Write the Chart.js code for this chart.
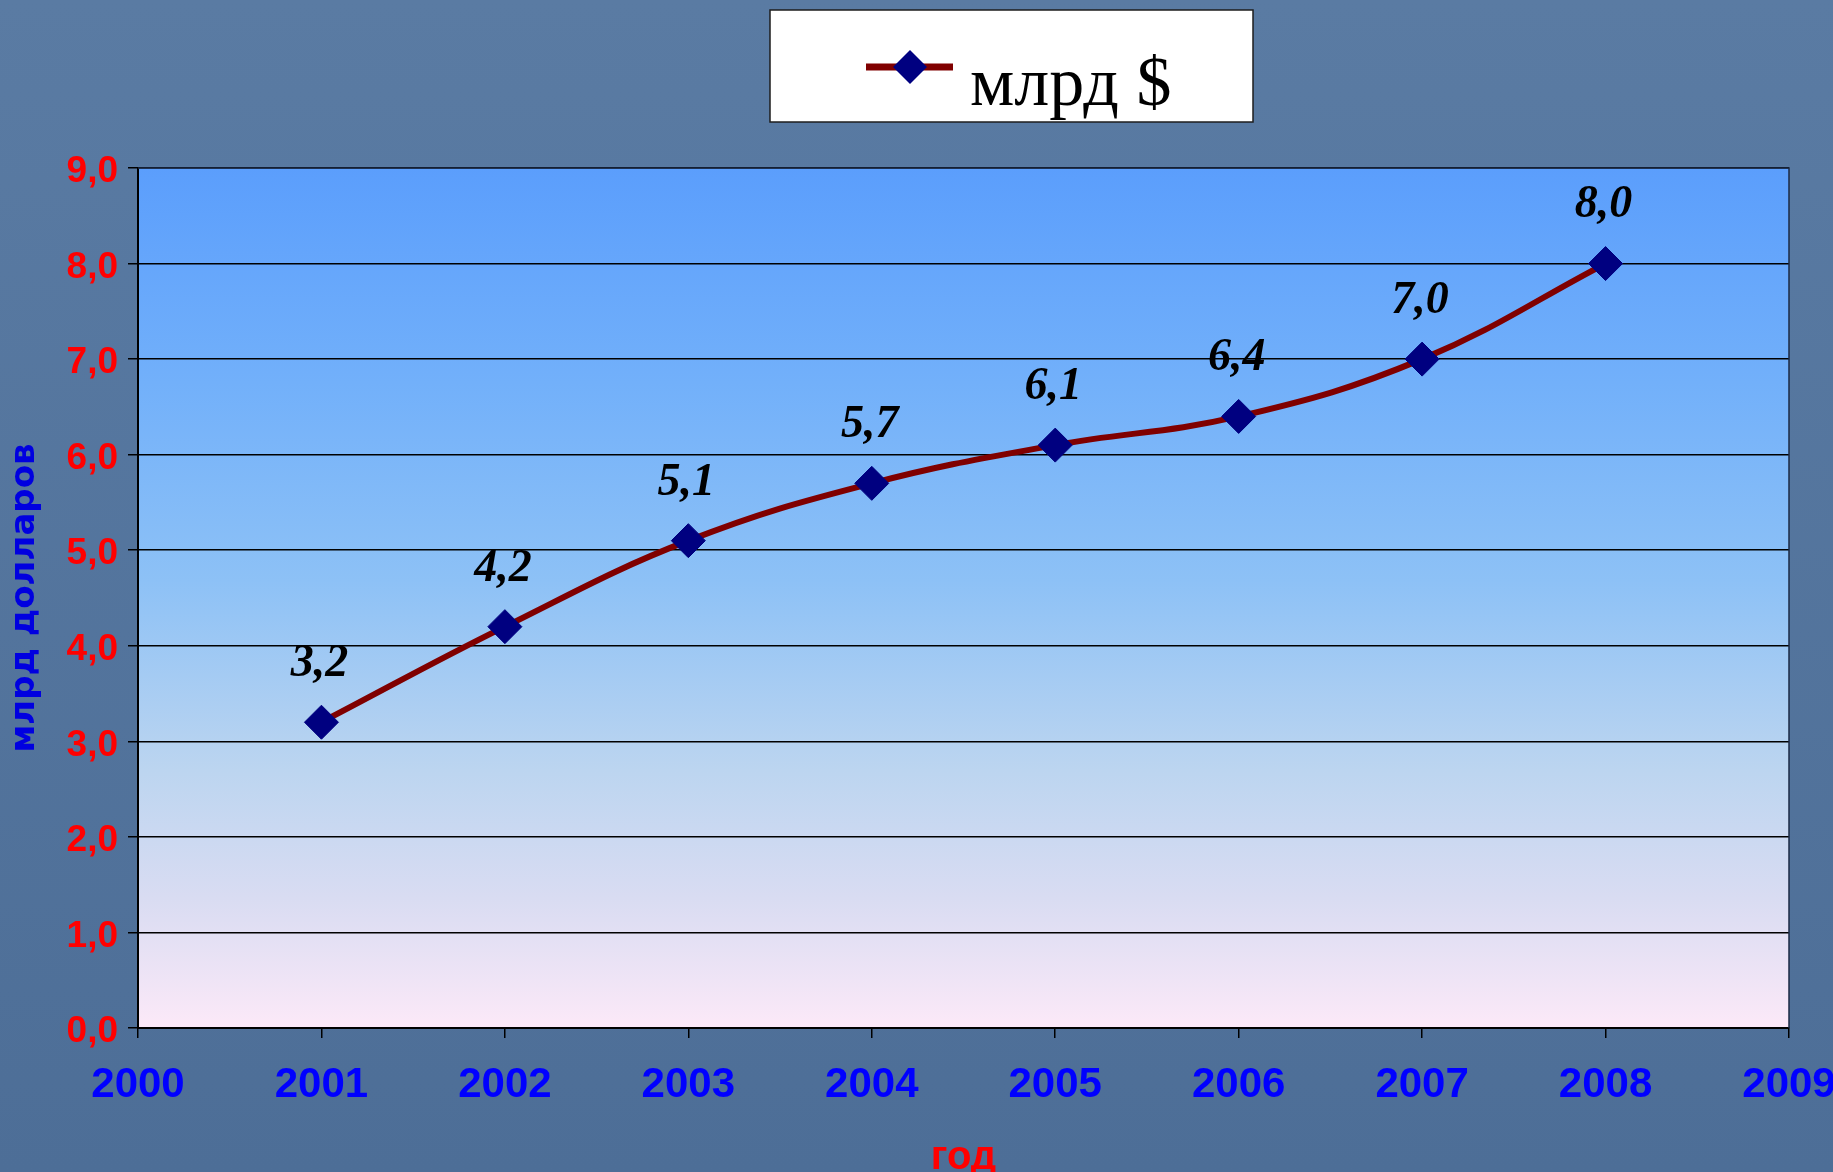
<!DOCTYPE html>
<html><head><meta charset="utf-8">
<script src="https://cdn.jsdelivr.net/npm/chart.js@4.4.1/dist/chart.umd.min.js"></script>
<style>html,body{margin:0;padding:0;background:#52739b;overflow:hidden}#wrap{width:1833px;height:1172px}</style>
</head><body><div id="wrap"><canvas id="c" width="1833" height="1172"></canvas></div>
<script>
const years = [2001, 2002, 2003, 2004, 2005, 2006, 2007, 2008];
const values = [3.2, 4.2, 5.1, 5.7, 6.1, 6.4, 7.0, 8.0];
const seriesLabel = 'млрд $';
const xTitle = 'год';
const yTitle = 'млрд долларов';
const xRange = [2000, 2009];
const yRange = [0, 9];

const fmt = v => Number(v).toFixed(1).replace('.', ',');
const SANS = "'Liberation Sans', Arial, sans-serif";

const bgPlugin = {
  id: 'bg',
  beforeDraw(chart) {
    const {ctx, chartArea: a, width, height} = chart;
    ctx.save();
    const g0 = ctx.createLinearGradient(0, 0, 0, height);
    g0.addColorStop(0, '#5a7ba3');
    g0.addColorStop(1, '#4d6e97');
    ctx.fillStyle = g0;
    ctx.fillRect(0, 0, width, height);
    const g = ctx.createLinearGradient(0, a.top, 0, a.bottom);
    g.addColorStop(0, '#5b9efc');
    g.addColorStop(0.25, '#72b0fa');
    g.addColorStop(0.48, '#8dc1f6');
    g.addColorStop(0.7, '#bcd5f0');
    g.addColorStop(0.85, '#d9dcf2');
    g.addColorStop(1, '#fce9f8');
    ctx.fillStyle = g;
    ctx.fillRect(a.left, a.top, a.right - a.left, a.bottom - a.top);
    ctx.restore();
  },
  beforeDatasetsDraw(chart) {
    const {ctx, chartArea: a} = chart;
    ctx.save();
    ctx.strokeStyle = '#1b2a44';
    ctx.lineWidth = 1.5;
    ctx.beginPath();
    ctx.moveTo(a.left, a.top);
    ctx.lineTo(a.right, a.top);
    ctx.lineTo(a.right, a.bottom);
    ctx.stroke();
    ctx.restore();
  }
};

const valueLabels = {
  id: 'valueLabels',
  afterDatasetsDraw(chart) {
    const {ctx} = chart;
    const meta = chart.getDatasetMeta(0);
    ctx.save();
    ctx.font = "italic bold 46px 'Liberation Serif', 'DejaVu Serif', serif";
    ctx.fillStyle = '#000000';
    ctx.textAlign = 'center';
    ctx.textBaseline = 'middle';
    meta.data.forEach((pt, i) => {
      ctx.fillText(fmt(chart.data.datasets[0].data[i].y), pt.x - 2, pt.y - 58);
    });
    ctx.restore();
  }
};

const boxLegend = {
  id: 'boxLegend',
  afterDraw(chart) {
    const {ctx} = chart;
    const ds = chart.data.datasets[0];
    ctx.save();
    ctx.fillStyle = '#ffffff';
    ctx.fillRect(770, 10, 483, 112);
    ctx.strokeStyle = '#1e1e1e';
    ctx.lineWidth = 1.5;
    ctx.strokeRect(770, 10, 483, 112);
    ctx.strokeStyle = ds.borderColor;
    ctx.lineWidth = 7;
    ctx.beginPath();
    ctx.moveTo(866, 67);
    ctx.lineTo(953, 67);
    ctx.stroke();
    ctx.fillStyle = ds.pointBackgroundColor;
    ctx.beginPath();
    ctx.moveTo(910, 50);
    ctx.lineTo(927, 67);
    ctx.lineTo(910, 84);
    ctx.lineTo(893, 67);
    ctx.closePath();
    ctx.fill();
    ctx.fillStyle = '#000000';
    ctx.font = "70px 'Liberation Serif', 'Times New Roman', serif";
    ctx.textAlign = 'left';
    ctx.textBaseline = 'alphabetic';
    ctx.fillText(ds.label, 970, 105);
    ctx.restore();
  }
};

new Chart(document.getElementById('c'), {
  type: 'line',
  data: {
    datasets: [{
      label: seriesLabel,
      data: years.map((y, i) => ({x: y, y: values[i]})),
      borderColor: '#800000',
      borderWidth: 6,
      tension: 0.4,
      pointStyle: 'rectRot',
      pointRadius: 17,
      pointHoverRadius: 17,
      pointBackgroundColor: '#000080',
      pointBorderColor: '#000080',
      pointBorderWidth: 1,
      fill: false
    }]
  },
  options: {
    responsive: false,
    animation: false,
    devicePixelRatio: 1,
    layout: {padding: {top: 168, right: 44, bottom: 0, left: 0}},
    plugins: {legend: {display: false}, tooltip: {enabled: false}},
    scales: {
      x: {
        type: 'linear',
        min: xRange[0], max: xRange[1],
        afterFit(s) { s.height = 144; s.paddingRight = 0; s.paddingLeft = 0; },
        ticks: {
          stepSize: 1,
          callback: v => String(v),
          color: '#0000ff',
          font: {family: SANS, size: 42, weight: 'bold', lineHeight: 1.2},
          padding: 22,
          maxRotation: 0,
          autoSkip: false
        },
        grid: {drawOnChartArea: false, drawTicks: true, tickLength: 10, color: '#000000', lineWidth: 1.5},
        border: {display: true, color: '#000000', width: 2},
        title: {
          display: true, text: xTitle, color: '#ff0000',
          font: {family: SANS, size: 40, weight: 'bold', lineHeight: 0.7},
          padding: {top: 0, bottom: 0}
        }
      },
      y: {
        min: yRange[0], max: yRange[1],
        afterFit(s) { s.width = 138; },
        ticks: {
          stepSize: 1,
          callback: v => fmt(v),
          color: '#ff0000',
          font: {family: SANS, size: 37, weight: 'bold'},
          padding: 10,
          labelOffset: 4
        },
        grid: {color: '#000000', lineWidth: 1.5, tickLength: 10, drawTicks: true},
        border: {display: true, color: '#000000', width: 2},
        title: {
          display: true, text: yTitle, color: '#0000e0',
          font: {family: "'DejaVu Sans', Verdana, sans-serif", size: 34, weight: 'bold', lineHeight: 1},
          padding: {top: 8, bottom: 0}
        }
      }
    }
  },
  plugins: [bgPlugin, valueLabels, boxLegend]
});
</script>
</body></html>
